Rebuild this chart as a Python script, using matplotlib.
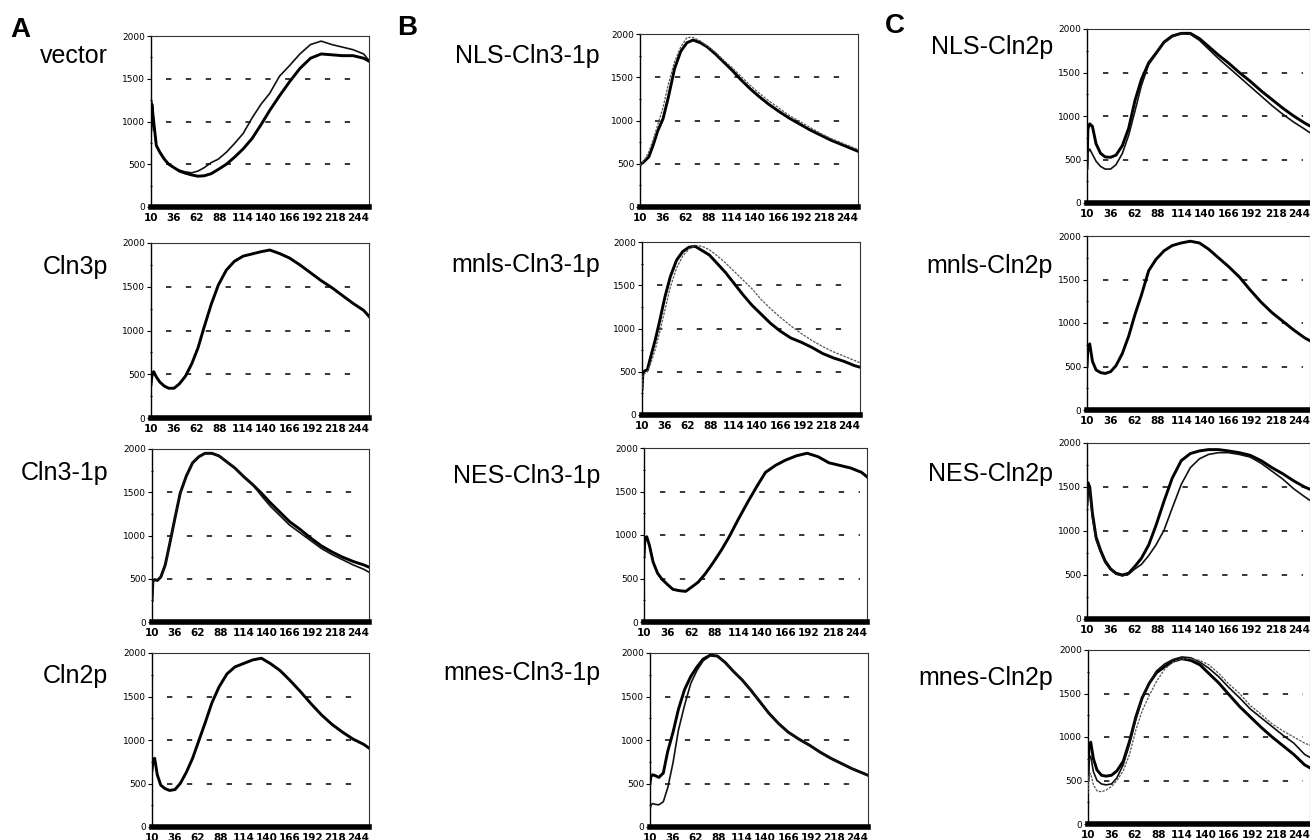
"""
Flow cytometry DNA-content histograms, 3 columns (A, B, C) x 4 rows.
Values were read off the reference figure at a fixed set of channels.
"""

import matplotlib
matplotlib.use("Agg")
import matplotlib.pyplot as plt
from matplotlib.ticker import MultipleLocator

W, H = 1310, 840

CHANNELS = [10, 11, 13, 16, 20, 25, 30, 36, 42, 49, 56, 63, 70, 78, 86, 95,
            104, 114, 124, 134, 144, 155, 166, 178, 190, 202, 214, 226, 238, 250, 257]
X_TICKS = [10, 36, 62, 88, 114, 140, 166, 192, 218, 244]
Y_TICKS = [0, 500, 1000, 1500, 2000]
GRID_LEVELS = [500, 1000, 1500]

# --- column A ---
VECTOR_1 = [900, 1230, 1000, 720, 640, 560, 500, 460, 430, 410, 400, 420, 460, 520, 560, 640,
            740, 860, 1040, 1200, 1330, 1530, 1650, 1790, 1900, 1940, 1900, 1870, 1840, 1790, 1700]
VECTOR_2 = [900, 1200, 1000, 720, 640, 560, 500, 460, 420, 395, 375, 360, 365, 390, 440, 500,
            580, 680, 800, 960, 1130, 1300, 1460, 1620, 1740, 1790, 1780, 1770, 1770, 1740, 1700]
CLN3 = [380, 480, 530, 470, 410, 365, 340, 340, 390, 480, 620, 800, 1040, 1300, 1520, 1690,
        1790, 1850, 1875, 1900, 1920, 1880, 1830, 1750, 1660, 1570, 1490, 1400, 1310, 1230, 1150]
CLN3_1_1 = [250, 470, 490, 480, 520, 660, 900, 1200, 1490, 1690, 1840, 1910, 1950, 1950, 1920, 1850,
            1780, 1680, 1590, 1490, 1380, 1270, 1160, 1070, 970, 880, 810, 750, 700, 660, 630]
CLN3_1_2 = [250, 470, 490, 480, 520, 660, 900, 1200, 1490, 1690, 1840, 1910, 1950, 1950, 1920, 1850,
            1780, 1680, 1590, 1460, 1340, 1230, 1120, 1030, 940, 850, 780, 720, 660, 610, 570]
CLN2 = [650, 760, 790, 600, 480, 440, 420, 430, 500, 630, 790, 990, 1190, 1430, 1610, 1760,
        1840, 1880, 1920, 1940, 1880, 1800, 1690, 1560, 1420, 1290, 1180, 1090, 1010, 950, 900]

# --- column B ---
NLS_CLN3_1_1 = [480, 500, 510, 540, 580, 720, 880, 1020, 1270, 1600, 1800, 1900, 1930, 1900, 1850, 1770,
                1680, 1580, 1470, 1370, 1280, 1190, 1110, 1030, 960, 890, 830, 770, 720, 670, 640]
NLS_CLN3_1_2 = [480, 500, 520, 560, 640, 780, 950, 1150, 1420, 1680, 1850, 1960, 1960, 1920, 1860, 1790,
                1700, 1610, 1510, 1410, 1320, 1230, 1150, 1060, 990, 920, 850, 790, 740, 690, 660]
MNLS_CLN3_1_1 = [300, 480, 510, 520, 680, 870, 1090, 1370, 1600, 1790, 1890, 1940, 1950, 1900, 1850, 1750,
                 1650, 1520, 1390, 1270, 1170, 1060, 970, 890, 840, 780, 710, 660, 620, 570, 550]
MNLS_CLN3_1_2 = [300, 460, 480, 500, 600, 760, 960, 1220, 1480, 1700, 1840, 1920, 1960, 1950, 1910, 1840,
                 1760, 1660, 1560, 1460, 1340, 1230, 1130, 1030, 940, 860, 790, 730, 680, 630, 600]
NES_CLN3_1 = [750, 960, 980, 880, 690, 560, 490, 430, 375, 360, 352, 405, 460, 560, 678, 820,
              980, 1180, 1370, 1550, 1720, 1800, 1860, 1910, 1940, 1900, 1830, 1800, 1770, 1720, 1660]
MNES_CLN3_1_1 = [500, 580, 600, 590, 570, 620, 870, 1090, 1350, 1580, 1730, 1840, 1930, 1975, 1965, 1890,
                 1790, 1690, 1570, 1440, 1310, 1190, 1090, 1010, 940, 860, 790, 730, 670, 620, 590]
MNES_CLN3_1_2 = [200, 250, 270, 260, 255, 290, 450, 740, 1110, 1400, 1650, 1800, 1910, 1970, 1965, 1890,
                 1790, 1690, 1570, 1440, 1310, 1190, 1090, 1010, 940, 860, 790, 730, 670, 620, 590]

# --- column C ---
NLS_CLN2_1 = [400, 850, 910, 880, 680, 570, 530, 525, 550, 660, 860, 1180, 1420, 1610, 1720, 1850,
              1920, 1950, 1950, 1890, 1800, 1700, 1610, 1500, 1400, 1290, 1190, 1090, 1000, 920, 880]
NLS_CLN2_2 = [350, 580, 620, 560, 480, 420, 390, 390, 440, 570, 780, 1060, 1350, 1590, 1710, 1840,
              1910, 1950, 1940, 1870, 1770, 1660, 1560, 1450, 1340, 1230, 1120, 1020, 930, 850, 800]
MNLS_CLN2 = [500, 720, 760, 560, 460, 430, 420, 440, 510, 650, 850, 1100, 1320, 1600, 1730, 1830,
             1890, 1920, 1940, 1920, 1850, 1750, 1650, 1530, 1380, 1240, 1120, 1020, 920, 830, 790]
NES_CLN2_1 = [1300, 1550, 1500, 1200, 930, 780, 660, 570, 520, 500, 520, 600, 690, 840, 1060, 1340,
              1600, 1800, 1880, 1910, 1925, 1925, 1910, 1890, 1860, 1800, 1720, 1650, 1570, 1500, 1470]
NES_CLN2_2 = [1250, 1500, 1450, 1150, 900, 760, 640, 560, 510, 490, 510, 570, 620, 720, 840, 1010,
              1260, 1530, 1720, 1820, 1870, 1890, 1890, 1870, 1840, 1770, 1680, 1590, 1480, 1390, 1340]
MNES_CLN2_1 = [500, 900, 940, 750, 620, 560, 550, 560, 610, 720, 950, 1230, 1450, 1620, 1740, 1810,
               1870, 1900, 1880, 1830, 1730, 1620, 1490, 1350, 1230, 1110, 1000, 900, 800, 680, 640]
MNES_CLN2_2 = [450, 740, 780, 600, 500, 460, 450, 460, 530, 680, 920, 1200, 1440, 1620, 1760, 1840,
               1890, 1920, 1910, 1860, 1790, 1690, 1570, 1450, 1320, 1220, 1120, 1020, 930, 800, 760]
MNES_CLN2_3 = [350, 560, 580, 450, 380, 370, 390, 430, 500, 610, 800, 1080, 1300, 1480, 1640, 1780,
               1860, 1900, 1900, 1880, 1830, 1730, 1610, 1500, 1360, 1260, 1150, 1070, 1000, 930, 900]

STYLES = {
    "dark": dict(color="black", lw=2.1),
    "mid": dict(color="#111111", lw=1.2),
    "light": dict(color="#555555", lw=0.9, ls=(0, (2, 1))),
}

# (name, axes box in px: left, top, right, bottom; label right x / baseline y; curves)
PANELS = [
    ("vector", (151, 36, 369, 207), (108, 63), [(VECTOR_1, "mid"), (VECTOR_2, "dark")]),
    ("Cln3p", (151, 243, 369, 418), (108, 274), [(CLN3, "dark")]),
    ("Cln3-1p", (152, 449, 369, 622), (108, 480), [(CLN3_1_1, "dark"), (CLN3_1_2, "mid")]),
    ("Cln2p", (152, 653, 369, 827), (108, 683), [(CLN2, "dark")]),
    ("NLS-Cln3-1p", (640, 34, 858, 207), (600, 63), [(NLS_CLN3_1_1, "dark"), (NLS_CLN3_1_2, "light")]),
    ("mnls-Cln3-1p", (642, 242, 860, 415), (600, 272), [(MNLS_CLN3_1_1, "dark"), (MNLS_CLN3_1_2, "light")]),
    ("NES-Cln3-1p", (644, 448, 867, 622), (600, 483), [(NES_CLN3_1, "dark")]),
    ("mnes-Cln3-1p", (650, 653, 868, 827), (600, 680), [(MNES_CLN3_1_1, "dark"), (MNES_CLN3_1_2, "mid")]),
    ("NLS-Cln2p", (1087, 29, 1310, 203), (1053, 54), [(NLS_CLN2_1, "dark"), (NLS_CLN2_2, "mid")]),
    ("mnls-Cln2p", (1087, 236, 1310, 410), (1053, 273), [(MNLS_CLN2, "dark")]),
    ("NES-Cln2p", (1087, 443, 1310, 619), (1053, 481), [(NES_CLN2_1, "dark"), (NES_CLN2_2, "mid")]),
    ("mnes-Cln2p", (1088, 650, 1310, 824), (1053, 685),
     [(MNES_CLN2_1, "dark"), (MNES_CLN2_2, "mid"), (MNES_CLN2_3, "light")]),
]

LETTERS = [("A", 10, 37), ("B", 397, 35), ("C", 885, 33)]


def draw_panel(fig, name, box, label_pos, curves):
    left, top, right, bottom = box
    ax = fig.add_axes([left / W, 1 - bottom / H, (right - left) / W, (bottom - top) / H])

    for level in GRID_LEVELS:
        ax.axhline(level, xmin=0.07, xmax=0.97, color="black", lw=1.1, dashes=(3.5, 9.5), zorder=1)

    for ys, style in curves:
        ax.plot(CHANNELS, ys, zorder=3, solid_joinstyle="round", **STYLES[style])

    ax.set_xlim(10, 256)
    ax.set_ylim(0, 2000)
    ax.set_xticks(X_TICKS)
    ax.set_yticks(Y_TICKS)
    ax.yaxis.set_minor_locator(MultipleLocator(250))
    ax.tick_params(axis="x", length=0, pad=4, labelsize=7.5)
    ax.tick_params(axis="y", which="major", length=3, width=0.8, pad=1, labelsize=6.5)
    ax.tick_params(axis="y", which="minor", length=2, width=0.8, direction="inout")
    for lab in ax.get_xticklabels():
        lab.set_fontweight("bold")

    ax.spines["bottom"].set_linewidth(4.0)
    ax.spines["bottom"].set_zorder(5)
    ax.spines["left"].set_linewidth(1.0)
    for side in ("top", "right"):
        ax.spines[side].set_linewidth(0.8)
        ax.spines[side].set_color("#333333")

    fig.text(label_pos[0] / W, 1 - label_pos[1] / H, name, ha="right", va="baseline",
             fontsize=18, family="Liberation Sans")
    return ax


def main():
    plt.rcParams["font.family"] = "DejaVu Sans"
    fig = plt.figure(figsize=(W / 100, H / 100), dpi=100)

    for name, box, label_pos, curves in PANELS:
        draw_panel(fig, name, box, label_pos, curves)

    for letter, x, y in LETTERS:
        fig.text(x / W, 1 - y / H, letter, ha="left", va="baseline", fontsize=20,
                 fontweight="bold", family="Liberation Sans")

    fig.savefig("out.png", dpi=100)
    plt.close(fig)


if __name__ == "__main__":
    main()
